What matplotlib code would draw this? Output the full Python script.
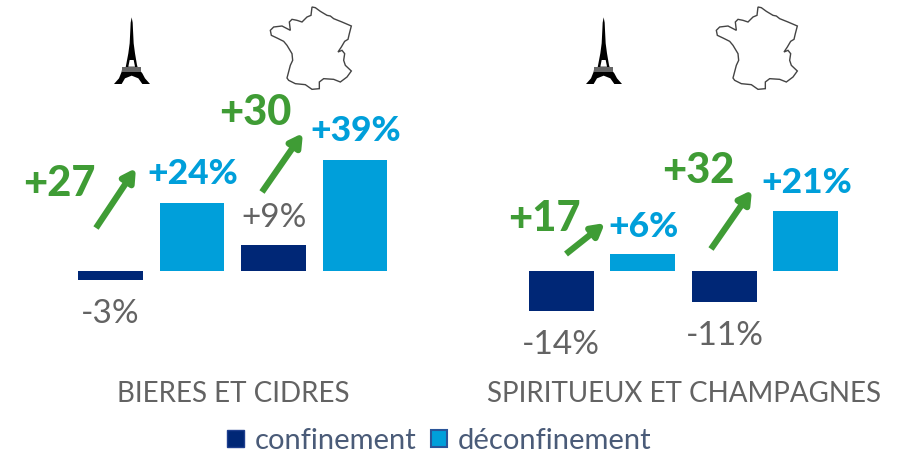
import matplotlib
matplotlib.use('Agg')
import matplotlib.pyplot as plt
from matplotlib.patches import Polygon, Rectangle

plt.rcParams['font.family'] = ['Lato', 'DejaVu Sans']

NAVY = '#002776'
BLUE = '#009FDA'
GREEN = '#3F9C35'
GREY = '#636363'

# data
positions = [0, 1, 2, 3, 5.53, 6.53, 7.53, 8.53]
values = [-3, 24, 9, 39, -14, 6, -11, 21]
labels = ['-3%', '+24%', '+9%', '+39%', '-14%', '+6%', '-11%', '+21%']
is_confinement = [True, False, True, False, True, False, True, False]
groups = ['BIERES ET CIDRES', 'SPIRITUEUX ET CHAMPAGNES']
gains = ['+27', '+30', '+17', '+32']

fig = plt.figure(figsize=(9.02, 4.53), dpi=100)

# bars axes, scaled so that it fills the figure
ax = fig.add_axes([0, 0, 1, 1])
ax.set_xlim(-110.5 / 81.5, (902 - 110.5) / 81.5)
ax.set_ylim(-(453 - 271) / 2.85, 271 / 2.85)
ax.axis('off')
colors = [NAVY if c else BLUE for c in is_confinement]
ax.bar(positions, values, width=0.795, color=colors)

# overlay in pixels for the annotations
ov = fig.add_axes([0, 0, 1, 1])
ov.set_xlim(0, 902)
ov.set_ylim(453, 0)
ov.axis('off')
ov.patch.set_alpha(0)

# value labels
label_xy = [(110, 314), (193, 174), (274, 218), (356, 131),
            (561, 345), (643, 227), (725, 336), (807, 183)]
for (x, y), lab, conf in zip(label_xy, labels, is_confinement):
    if conf:
        ov.text(x, y, lab, color=GREY, fontsize=24, ha='center', va='center')
    else:
        ov.text(x, y, lab, color=BLUE, fontsize=25.5, fontweight='black', ha='center', va='center')

# green gains and arrows
gain_xy = [(59, 184), (255, 113), (544, 219), (698, 171)]
for (x, y), g in zip(gain_xy, gains):
    ov.text(x, y, g, color=GREEN, fontsize=30, fontweight='black', ha='center', va='center')

arrows = [((96, 228), (136, 168)), ((262, 192), (303, 133)),
          ((566, 254), (605, 223)), ((711, 249), (752, 190))]
for start, end in arrows:
    ov.annotate('', xy=end, xytext=start,
                arrowprops=dict(arrowstyle='-|>,head_width=0.42,head_length=0.75',
                                color=GREEN, lw=4.5, shrinkA=0, shrinkB=0,
                                capstyle='butt'))

# group names
ov.text(233, 394, groups[0], color=GREY, fontsize=20, ha='center', va='center')
ov.text(684, 394, groups[1], color=GREY, fontsize=20, ha='center', va='center')

# legend
ov.add_patch(Rectangle((227, 430), 17, 17, facecolor=NAVY, edgecolor='#1F3F8F', lw=1))
ov.text(255, 441, 'confinement', color='#4A5B78', fontsize=21, ha='left', va='center')
ov.add_patch(Rectangle((431, 430), 16, 17, facecolor=BLUE, edgecolor='#2A5599', lw=1.5))
ov.text(458, 441, 'déconfinement', color='#4A5B78', fontsize=21, ha='left', va='center')

# icons
france = [(150, 15), (160, 17), (175, 28), (195, 40), (205, 42), (215, 50), (240, 60), (268, 72),
          (262, 95), (258, 112), (248, 118), (238, 135), (228, 150), (240, 145), (248, 155),
          (245, 175), (250, 190), (268, 207), (255, 225), (235, 240), (215, 232), (185, 230),
          (172, 240), (172, 260), (150, 262), (130, 248), (100, 245), (80, 235), (75, 228),
          (85, 190), (92, 175), (90, 155), (75, 130), (65, 118), (45, 108), (28, 100), (25, 85),
          (35, 75), (60, 72), (85, 85), (82, 60), (90, 52), (105, 55), (120, 60), (135, 45),
          (147, 40)]
tower = [(80, 22), (83, 38), (84, 60), (86, 100), (90, 130), (96, 165), (98, 172), (108, 172),
         (108, 185), (112, 190), (120, 205), (135, 222), (112, 222), (100, 205), (80, 197),
         (60, 205), (50, 222), (27, 222), (42, 205), (50, 185), (52, 172), (62, 172), (70, 130),
         (74, 100), (76, 60), (77, 38)]
gap = [(74, 150), (86, 150), (90, 170), (70, 170)]
band = [(52, 172), (108, 172), (108, 185), (52, 185)]
for dx in (0, 446):
    ov.add_patch(Polygon([(x / 3 + 262 + dx, y / 3 + 2) for x, y in france], closed=True,
                         facecolor='white', edgecolor='#444444', lw=1))
for dx in (0, 472):
    ov.add_patch(Polygon([(x / 3 + 105 + dx, y / 3 + 10) for x, y in tower], closed=True,
                         facecolor='black', edgecolor='none'))
    ov.add_patch(Polygon([(x / 3 + 105 + dx, y / 3 + 10) for x, y in gap], closed=True,
                         facecolor='white', edgecolor='none'))
    ov.add_patch(Polygon([(x / 3 + 105 + dx, y / 3 + 10) for x, y in band], closed=True,
                         facecolor='#666666', edgecolor='none'))

fig.savefig('out.png', dpi=100)
